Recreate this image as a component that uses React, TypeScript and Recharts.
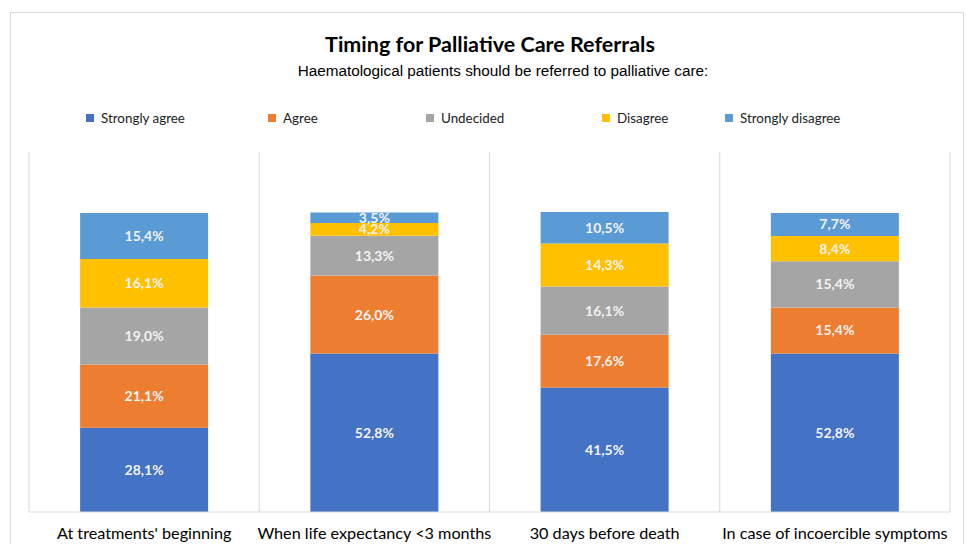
import { BarChart, Bar, XAxis, YAxis, CartesianGrid, LabelList } from "recharts";

const categories = [
  "At treatments' beginning",
  "When life expectancy <3 months",
  "30 days before death",
  "In case of incoercible symptoms",
];

const stronglyAgree = [28.1, 52.8, 41.5, 52.8];
const agree = [21.1, 26.0, 17.6, 15.4];
const undecided = [19.0, 13.3, 16.1, 15.4];
const disagree = [16.1, 4.2, 14.3, 8.4];
const stronglyDisagree = [15.4, 3.5, 10.5, 7.7];

const series = [
  { key: "stronglyAgree", name: "Strongly agree", color: "#4472C4", values: stronglyAgree },
  { key: "agree", name: "Agree", color: "#ED7D31", values: agree },
  { key: "undecided", name: "Undecided", color: "#A5A5A5", values: undecided },
  { key: "disagree", name: "Disagree", color: "#FFC000", values: disagree },
  { key: "stronglyDisagree", name: "Strongly disagree", color: "#5B9BD5", values: stronglyDisagree },
];

const data = categories.map((name, i) => {
  const row: Record<string, string | number> = { name };
  series.forEach((s) => (row[s.key] = s.values[i]));
  return row;
});

// legend slot widths, Excel spreads the entries unevenly
const legendSlots = [182, 158, 176, 123, 140];

const fmt = (v: any) => Number(v).toFixed(1).replace(".", ",") + "%";

const font = "Lato, 'Open Sans', sans-serif";

export default function App() {
  return (
    <div style={{ position: "absolute", left: 0, top: 0, width: 967, height: 544, background: "#fff", overflow: "hidden" }}>
      <div style={{ position: "absolute", left: 10, top: 12, width: 952, height: 560, border: "1px solid #d9d9d9" }} />
      <div
        style={{
          position: "absolute",
          top: 31,
          left: 0,
          width: 980,
          textAlign: "center",
          fontFamily: font,
          fontWeight: 700,
          fontSize: 21.5,
          color: "#000",
        }}
      >
        Timing for Palliative Care Referrals
      </div>
      <div
        style={{
          position: "absolute",
          top: 62,
          left: 0,
          width: 1006,
          textAlign: "center",
          fontFamily: "'Liberation Sans', Arial, sans-serif",
          fontSize: 15.3,
          color: "#000",
        }}
      >
        Haematological patients should be referred to palliative care:
      </div>
      <div style={{ position: "absolute", top: 110, left: 86, display: "flex", fontFamily: font, fontSize: 13.4, color: "#222" }}>
        {series.map((s, i) => (
          <div key={s.key} style={{ width: legendSlots[i], display: "flex", alignItems: "center" }}>
            <span style={{ display: "inline-block", width: 8, height: 8, background: s.color, marginRight: 7 }} />
            {s.name}
          </div>
        ))}
      </div>
      <BarChart
        width={967}
        height={544}
        data={data}
        margin={{ top: 152, right: 17, left: 29, bottom: 0 }}
        barCategoryGap="22.2%"
        style={{ position: "absolute", left: 0, top: 0 }}
      >
        <CartesianGrid
          horizontal={false}
          stroke="#d9d9d9"
          verticalCoordinatesGenerator={({ offset }: any) =>
            categories.map((_, i) => offset.left + (i * offset.width) / categories.length).concat(offset.left + offset.width)
          }
        />
        <XAxis
          dataKey="name"
          height={32}
          axisLine={{ stroke: "#d9d9d9" }}
          tickLine={false}
          interval={0}
          tick={{ fill: "#000", fontSize: 16.2, fontFamily: font }}
          tickMargin={9}
        />
        <YAxis hide domain={[0, 120]} />
        {series.map((s) => (
          <Bar key={s.key} dataKey={s.key} name={s.name} stackId="a" fill={s.color} isAnimationActive={false}>
            <LabelList
              dataKey={s.key}
              position="center"
              formatter={fmt}
              fill="#f2f2f2"
              fontSize={14}
              fontWeight={700}
              fontFamily={font}
            />
          </Bar>
        ))}
      </BarChart>
    </div>
  );
}
